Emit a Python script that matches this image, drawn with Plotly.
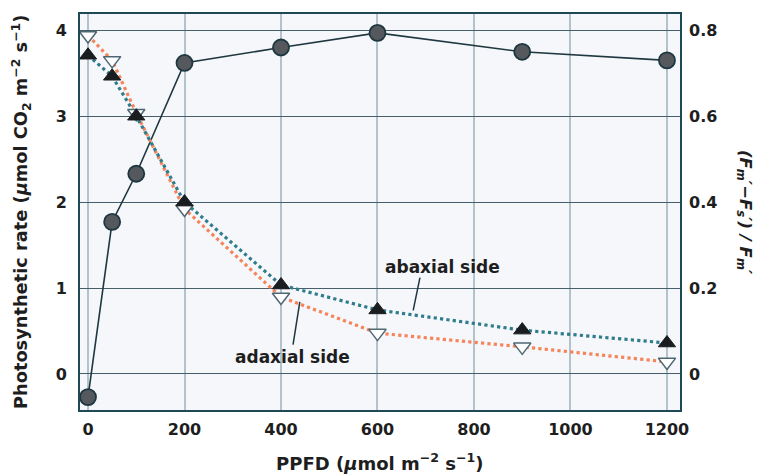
import plotly.graph_objects as go

ppfd = [0, 50, 100, 200, 400, 600, 900, 1200]
photo_rate = [-0.27, 1.77, 2.33, 3.62, 3.80, 3.97, 3.75, 3.65]
abaxial = [0.742, 0.693, 0.600, 0.400, 0.207, 0.149, 0.102, 0.072]
adaxial = [0.788, 0.730, 0.607, 0.384, 0.179, 0.095, 0.063, 0.028]

x_ticks = [0, 200, 400, 600, 800, 1000, 1200]
y_left_ticks = [0, 1, 2, 3, 4]
y_right_ticks = [0, 0.2, 0.4, 0.6, 0.8]
y_right_labels = ["0", "0.2", "0.4", "0.6", "0.8"]

FONT = "DejaVu Sans"
TXT = "#1e1e1e"
BG = "#f5f7fa"

fig = go.Figure()

fig.add_trace(go.Scatter(
    x=ppfd, y=adaxial, yaxis="y2", mode="lines",
    line=dict(color="#f5845a", width=3.2, dash="dot"), showlegend=False))
fig.add_trace(go.Scatter(
    x=ppfd, y=abaxial, yaxis="y2", mode="lines",
    line=dict(color="#2f7c8c", width=3.2, dash="dot"), showlegend=False))
fig.add_trace(go.Scatter(
    x=ppfd, y=photo_rate, mode="lines",
    line=dict(color="#1f3740", width=1.6), showlegend=False))
fig.add_trace(go.Scatter(
    x=ppfd, y=adaxial, yaxis="y2", mode="markers",
    marker=dict(symbol="triangle-down", size=15, color="white",
                line=dict(color="#4e6873", width=1.5)), showlegend=False))
fig.add_trace(go.Scatter(
    x=ppfd, y=abaxial, yaxis="y2", mode="markers",
    marker=dict(symbol="triangle-up", size=15, color="#1a1d1f",
                line=dict(color="#1a1d1f", width=1)), showlegend=False))
fig.add_trace(go.Scatter(
    x=ppfd, y=photo_rate, mode="markers",
    marker=dict(symbol="circle", size=16, color="#55585c",
                line=dict(color="#1d3741", width=1.8)), showlegend=False))

bold = dict(family=FONT, size=16, color=TXT, weight="bold")

fig.update_layout(
    width=756, height=467,
    margin=dict(l=72, r=84, t=6, b=65, autoexpand=False),
    paper_bgcolor="white", plot_bgcolor=BG,
    font=dict(family=FONT, color=TXT),
    xaxis=dict(
        range=[-16.6, 1227], tickvals=x_ticks, ticks="", tickfont=bold,
        showgrid=True, gridcolor="#b2c3cd", gridwidth=1.5, zeroline=False,
        showline=True, linecolor="#1d4a56", linewidth=2, mirror=True,
        automargin=False, ticklabelstandoff=4,
    ),
    yaxis=dict(
        range=[-0.42, 4.19], tickvals=y_left_ticks, ticks="", tickfont=bold,
        showgrid=True, gridcolor="#465f6a", gridwidth=1.3, zeroline=False,
        showline=True, linecolor="#1d4a56", linewidth=2, mirror=True,
        automargin=False, ticklabelstandoff=8,
    ),
    yaxis2=dict(
        range=[-0.084, 0.838], tickvals=y_right_ticks, ticktext=y_right_labels,
        overlaying="y", side="right", ticks="", tickfont=bold,
        showgrid=False, zeroline=False, showline=False, automargin=False,
        ticklabelstandoff=8,
    ),
    annotations=[
        dict(x=734, y=1.24, xref="x", yref="y", text="abaxial side", showarrow=False,
             font=dict(family=FONT, size=17, color=TXT, weight="bold")),
        dict(x=423, y=0.20, xref="x", yref="y", text="adaxial side", showarrow=False,
             font=dict(family=FONT, size=17, color=TXT, weight="bold")),
        dict(x=0, y=0.5, xref="paper", yref="paper", xanchor="center", yanchor="middle",
             text="Photosynthetic rate (<i>μ</i>mol CO<sub>2</sub> m<sup>−2</sup> s<sup>−1</sup>)",
             textangle=-90, showarrow=False, xshift=-59,
             font=dict(family=FONT, size=17.8, color=TXT, weight="bold")),
        dict(x=0.5, y=0, xref="paper", yref="paper", xanchor="center", yanchor="middle",
             text="PPFD (<i>μ</i>mol m<sup>−2</sup> s<sup>−1</sup>)",
             showarrow=False, yshift=-52,
             font=dict(family=FONT, size=18, color=TXT, weight="bold")),
        dict(x=1, y=0.5, xref="paper", yref="paper", xanchor="center", yanchor="middle",
             text="<i>(F<sub>m</sub>′−F<sub>s</sub>′) / F<sub>m</sub>′</i>",
             textangle=90, showarrow=False, xshift=65,
             font=dict(family=FONT, size=16.5, color=TXT, weight="bold")),
    ],
    shapes=[
        dict(type="line", xref="x", yref="y", x0=688, y0=1.12, x1=674, y1=0.74,
             line=dict(color="#1f3740", width=1.5)),
        dict(type="line", xref="x", yref="y", x0=439, y0=0.84, x1=425, y1=0.34,
             line=dict(color="#1f3740", width=1.5)),
    ],
)

fig.write_html("out.html")
